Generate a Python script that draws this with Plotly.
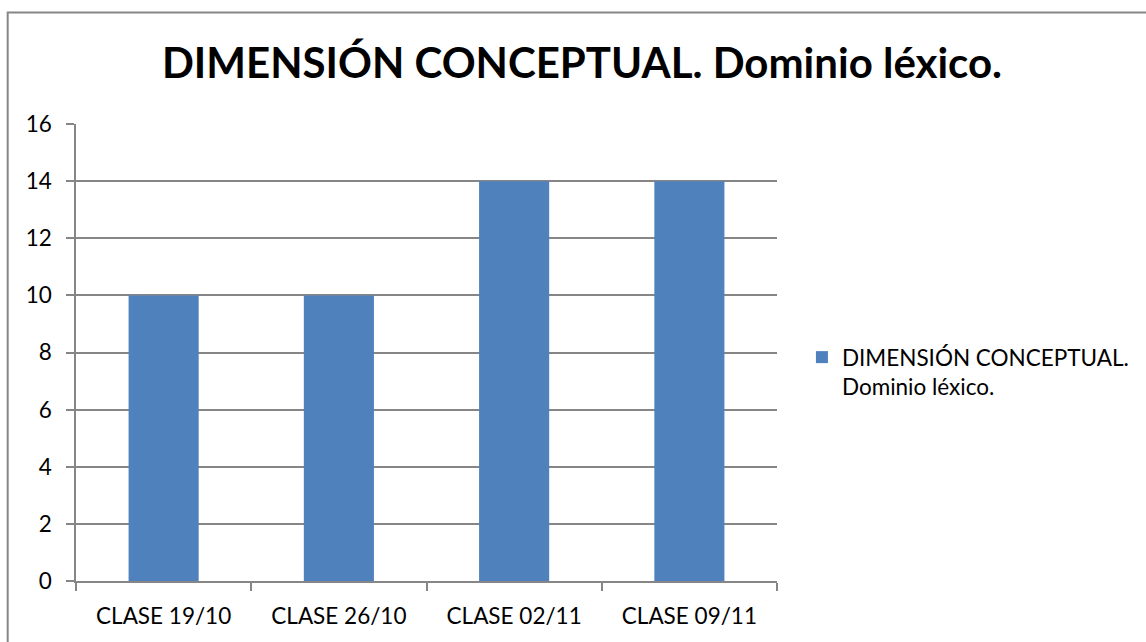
import plotly.graph_objects as go

categories = ["CLASE 19/10", "CLASE 26/10", "CLASE 02/11", "CLASE 09/11"]
values = [10, 10, 14, 14]
series_name = "DIMENSIÓN CONCEPTUAL.<br>Dominio léxico."
title_text = "DIMENSIÓN CONCEPTUAL. Dominio léxico."
y_ticks = [0, 2, 4, 6, 8, 10, 12, 14, 16]

W, H = 1146, 642
L, R, T, B = 76, 367, 124, 61
pw, ph = W - L - R, H - T - B

FONT = "Lato, Carlito, 'Liberation Sans', sans-serif"
GRAY = "#868686"
FS = 22.5

fig = go.Figure()
fig.add_trace(go.Bar(
    x=categories, y=values, name=series_name,
    marker=dict(color="#4F81BD", line=dict(width=0)),
    showlegend=True,
))

fig.update_layout(
    width=W, height=H, autosize=False,
    margin=dict(l=L, r=R, t=T, b=B),
    paper_bgcolor="white", plot_bgcolor="white",
    font=dict(family=FONT, size=FS, color="black"),
    bargap=0.6,
    title=dict(text=title_text, x=582 / W, xanchor="center",
               y=1 - 63 / H, yanchor="middle", yref="container",
               font=dict(family=FONT, size=42, color="black", weight="bold")),
    showlegend=True,
    legend=dict(x=(804 - L) / pw, xanchor="left", y=(H - B - 336) / ph, yanchor="top",
                valign="top",
                font=dict(family=FONT, size=FS, color="black"),
                bgcolor="rgba(0,0,0,0)", itemwidth=30),
    xaxis=dict(type="category", showgrid=False, showline=True, linecolor=GRAY, linewidth=1.5,
               ticks="outside", ticklen=8, tickcolor=GRAY, tickwidth=1.5, tickson="boundaries",
               ticklabelstandoff=14, tickfont=dict(family=FONT, size=FS, color="black")),
    yaxis=dict(range=[0, 16], tickvals=y_ticks, showgrid=True, gridcolor=GRAY, gridwidth=1.5,
               showline=True, linecolor=GRAY, linewidth=1.5, ticks="outside", ticklen=8,
               tickcolor=GRAY, tickwidth=1.5, ticklabelstandoff=10, zeroline=False,
               tickfont=dict(family=FONT, size=FS, color="black")),
)

# outer chart border (top and left visible; extends beyond the window)
fig.add_shape(type="rect", xref="paper", yref="paper",
              x0=(7.5 - L) / pw, x1=(W + 20 - L) / pw,
              y0=-(B + 20) / ph, y1=1 + (T - 12.5) / ph,
              line=dict(color=GRAY, width=2), fillcolor="rgba(0,0,0,0)", layer="below")

fig.write_html("out.html", config={"displayModeBar": False},
               post_script="document.body.style.margin='0';")
